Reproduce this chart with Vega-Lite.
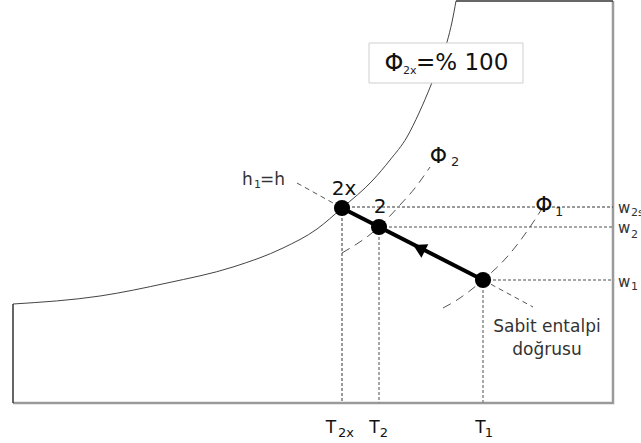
{
  "$schema": "https://vega.github.io/schema/vega-lite/v6.json",
  "width": 641,
  "height": 443,
  "autosize": "none",
  "padding": 0,
  "background": "white",
  "config": {"view": {"stroke": null}, "text": {"font": "DejaVu Sans", "color": "#111", "baseline": "alphabetic"}},
  "datasets": {
    "sat": [
      {"T": 13, "w": 139}, {"T": 100, "w": 147}, {"T": 167, "w": 160}, {"T": 233, "w": 176},
      {"T": 283, "w": 195}, {"T": 317, "w": 214}, {"T": 342, "w": 235}, {"T": 373, "w": 263},
      {"T": 390, "w": 283}, {"T": 407, "w": 306}, {"T": 419, "w": 330}, {"T": 431, "w": 358},
      {"T": 440, "w": 381}, {"T": 447, "w": 401}, {"T": 452, "w": 421}, {"T": 456, "w": 442}
    ],
    "frame": [
      {"id": "left", "o": 1, "T": 13, "w": 40}, {"id": "left", "o": 2, "T": 13, "w": 139},
      {"id": "top", "o": 1, "T": 456, "w": 442}, {"id": "top", "o": 2, "T": 613, "w": 442}
    ],
    "border": [
      {"o": 1, "T": 13, "w": 40}, {"o": 2, "T": 613, "w": 40}, {"o": 3, "T": 613, "w": 442}
    ],
    "guideDark": [
      {"id": "w2s", "o": 1, "T": 342, "w": 236}, {"id": "w2s", "o": 2, "T": 613, "w": 236},
      {"id": "T2x", "o": 1, "T": 342, "w": 235}, {"id": "T2x", "o": 2, "T": 342, "w": 40}
    ],
    "guideLight": [
      {"id": "w2", "o": 1, "T": 379, "w": 216}, {"id": "w2", "o": 2, "T": 613, "w": 216},
      {"id": "w1", "o": 1, "T": 483, "w": 163}, {"id": "w1", "o": 2, "T": 613, "w": 163},
      {"id": "T2", "o": 1, "T": 379, "w": 216}, {"id": "T2", "o": 2, "T": 379, "w": 40},
      {"id": "T1", "o": 1, "T": 483, "w": 163}, {"id": "T1", "o": 2, "T": 483, "w": 40}
    ],
    "phi": [
      {"id": "phi2", "T": 342, "w": 190}, {"id": "phi2", "T": 379, "w": 216}, {"id": "phi2", "T": 400, "w": 238},
      {"id": "phi2", "T": 415, "w": 255}, {"id": "phi2", "T": 430, "w": 276},
      {"id": "phi1", "T": 443, "w": 135}, {"id": "phi1", "T": 457, "w": 143}, {"id": "phi1", "T": 483, "w": 163},
      {"id": "phi1", "T": 507, "w": 186}, {"id": "phi1", "T": 530, "w": 216}, {"id": "phi1", "T": 543, "w": 236}
    ],
    "enthalpy": [
      {"id": "a", "T": 297, "w": 260}, {"id": "a", "T": 342, "w": 235},
      {"id": "b", "T": 483, "w": 163}, {"id": "b", "T": 533, "w": 136}
    ],
    "process": [{"T": 342, "w": 235}, {"T": 483, "w": 163}],
    "states": [{"state": "2x", "T": 342, "w": 235}, {"state": "2", "T": 379, "w": 216}, {"state": "1", "T": 483, "w": 163}],
    "arrow": [{"T": 419, "w": 195}],
    "box": [{"T": 369, "T2": 523, "w": 360, "w2": 400}],
    "labels": [
      {"role": "axis", "label": "T", "T": 331, "w": 10},
      {"role": "axis", "label": "T", "T": 374.5, "w": 10},
      {"role": "axis", "label": "T", "T": 480.5, "w": 10},
      {"role": "sub12", "label": "2x", "T": 346, "w": 6},
      {"role": "sub12", "label": "2", "T": 384, "w": 6},
      {"role": "sub12", "label": "1", "T": 489, "w": 6},
      {"role": "hsub", "label": "1", "T": 254, "w": 255},
      {"role": "w", "label": "w", "T": 618, "w": 230},
      {"role": "w", "label": "w", "T": 618, "w": 210},
      {"role": "w", "label": "w", "T": 618, "w": 156.5},
      {"role": "wsub", "label": "2s", "T": 631, "w": 227},
      {"role": "wsub", "label": "2", "T": 631, "w": 205},
      {"role": "wsub", "label": "1", "T": 631, "w": 153},
      {"role": "noteL", "label": "h", "T": 242, "w": 258},
      {"role": "noteL", "label": "=h", "T": 260, "w": 258},
      {"role": "noteC", "label": "Sabit entalpi", "T": 547, "w": 111},
      {"role": "noteC", "label": "doğrusu", "T": 547, "w": 88},
      {"role": "pt", "label": "2x", "T": 344, "w": 248},
      {"role": "pt", "label": "2", "T": 380, "w": 230},
      {"role": "phi", "label": "Φ", "T": 438.5, "w": 280},
      {"role": "phi", "label": "Φ", "T": 544, "w": 231},
      {"role": "phiBig", "label": "Φ", "T": 394, "w": 372},
      {"role": "sub13", "label": "2", "T": 451, "w": 277},
      {"role": "sub13", "label": "1", "T": 555, "w": 227},
      {"role": "boxsub", "label": "2x", "T": 403, "w": 369},
      {"role": "big", "label": "=% 100", "T": 416, "w": 373}
    ]
  },
  "encoding": {
    "x": {"field": "T", "type": "quantitative", "scale": {"domain": [0, 641], "nice": false, "zero": false}, "axis": null},
    "y": {"field": "w", "type": "quantitative", "scale": {"domain": [0, 443], "nice": false, "zero": false}, "axis": null}
  },
  "layer": [
    {"data": {"name": "border"}, "mark": {"type": "line", "color": "#9a9a9a", "strokeWidth": 2.5}, "encoding": {"order": {"field": "o"}}},
    {"data": {"name": "sat"}, "mark": {"type": "line", "color": "#444", "strokeWidth": 1, "interpolate": "monotone"}},
    {"data": {"name": "frame"}, "mark": {"type": "line", "color": "#333", "strokeWidth": 1.5}, "encoding": {"detail": {"field": "id"}, "order": {"field": "o"}}},
    {"data": {"name": "box"}, "mark": {"type": "rect", "fill": "white", "stroke": "#cfcfcf", "strokeWidth": 1}, "encoding": {"x2": {"field": "T2"}, "y2": {"field": "w2"}}},
    {"data": {"name": "guideLight"}, "mark": {"type": "line", "color": "#8a8a8a", "strokeWidth": 1.5, "strokeDash": [3, 2]}, "encoding": {"detail": {"field": "id"}, "order": {"field": "o"}}},
    {"data": {"name": "guideDark"}, "mark": {"type": "line", "color": "#333", "strokeWidth": 1, "strokeDash": [3, 2]}, "encoding": {"detail": {"field": "id"}, "order": {"field": "o"}}},
    {"data": {"name": "phi"}, "mark": {"type": "line", "color": "#555", "strokeWidth": 1, "strokeDash": [9, 6], "interpolate": "monotone"}, "encoding": {"detail": {"field": "id"}}},
    {"data": {"name": "enthalpy"}, "mark": {"type": "line", "color": "#555", "strokeWidth": 1, "strokeDash": [5, 4]}, "encoding": {"detail": {"field": "id"}}},
    {"data": {"name": "process"}, "mark": {"type": "line", "color": "black", "strokeWidth": 4}},
    {"data": {"name": "states"}, "mark": {"type": "point", "filled": true, "color": "black", "opacity": 1, "size": 260, "shape": "circle"}},
    {"data": {"name": "arrow"}, "mark": {"type": "point", "filled": true, "color": "black", "opacity": 1, "size": 230, "shape": "triangle-up", "angle": 297}},
    {"data": {"name": "labels"}, "transform": [{"filter": "datum.role == 'axis'"}], "mark": {"type": "text", "fontSize": 17, "align": "center"}, "encoding": {"text": {"field": "label"}}},
    {"data": {"name": "labels"}, "transform": [{"filter": "datum.role == 'sub12'"}], "mark": {"type": "text", "fontSize": 13, "align": "center"}, "encoding": {"text": {"field": "label"}}},
    {"data": {"name": "labels"}, "transform": [{"filter": "datum.role == 'hsub'"}], "mark": {"type": "text", "fontSize": 11, "align": "left", "color": "#333"}, "encoding": {"text": {"field": "label"}}},
    {"data": {"name": "labels"}, "transform": [{"filter": "datum.role == 'w'"}], "mark": {"type": "text", "fontSize": 15, "align": "left", "color": "#333"}, "encoding": {"text": {"field": "label"}}},
    {"data": {"name": "labels"}, "transform": [{"filter": "datum.role == 'wsub'"}], "mark": {"type": "text", "fontSize": 11, "align": "left", "color": "#333"}, "encoding": {"text": {"field": "label"}}},
    {"data": {"name": "labels"}, "transform": [{"filter": "datum.role == 'noteL'"}], "mark": {"type": "text", "fontSize": 17, "align": "left", "color": "#333"}, "encoding": {"text": {"field": "label"}}},
    {"data": {"name": "labels"}, "transform": [{"filter": "datum.role == 'noteC'"}], "mark": {"type": "text", "fontSize": 17, "align": "center", "color": "#333"}, "encoding": {"text": {"field": "label"}}},
    {"data": {"name": "labels"}, "transform": [{"filter": "datum.role == 'pt'"}], "mark": {"type": "text", "fontSize": 20, "align": "center", "color": "#111"}, "encoding": {"text": {"field": "label"}}},
    {"data": {"name": "labels"}, "transform": [{"filter": "datum.role == 'phi'"}], "mark": {"type": "text", "fontSize": 22, "align": "center", "color": "#111"}, "encoding": {"text": {"field": "label"}}},
    {"data": {"name": "labels"}, "transform": [{"filter": "datum.role == 'phiBig'"}], "mark": {"type": "text", "fontSize": 24, "align": "center", "color": "#111"}, "encoding": {"text": {"field": "label"}}},
    {"data": {"name": "labels"}, "transform": [{"filter": "datum.role == 'sub13'"}], "mark": {"type": "text", "fontSize": 13, "align": "left", "color": "#222"}, "encoding": {"text": {"field": "label"}}},
    {"data": {"name": "labels"}, "transform": [{"filter": "datum.role == 'boxsub'"}], "mark": {"type": "text", "fontSize": 11, "align": "left", "color": "#222"}, "encoding": {"text": {"field": "label"}}},
    {"data": {"name": "labels"}, "transform": [{"filter": "datum.role == 'big'"}], "mark": {"type": "text", "fontSize": 23, "align": "left", "color": "#111"}, "encoding": {"text": {"field": "label"}}}
  ]
}
